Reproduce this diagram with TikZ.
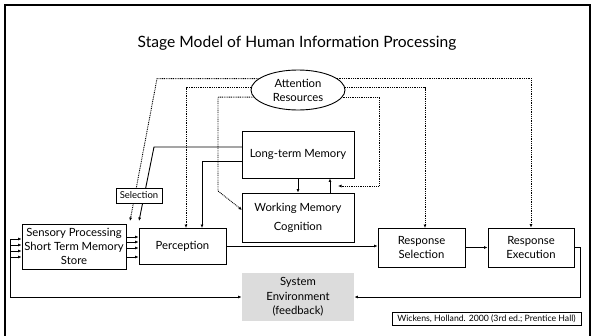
\documentclass[tikz,border=0pt]{standalone}
\usepackage{fontspec}
\setmainfont{Lato}
\usetikzlibrary{arrows.meta,shapes.geometric}
\definecolor{envgray}{HTML}{DCDCDC}
\begin{document}
\begin{tikzpicture}[x=1pt,y=-1pt,
  box/.style={draw,line width=0.9pt,inner sep=0pt,align=center,fill=white,
    font=\fontsize{11.3}{14}\selectfont},
  arr/.style={line width=0.9pt,-{Latex[length=3.5pt,width=3pt]}},
  dot/.style={line width=0.8pt,dash pattern=on 0.9pt off 0.9pt},
  smallbox/.style={draw,line width=0.8pt,inner sep=0pt,fill=white,font=\fontsize{8.7}{10}\selectfont}]
\useasboundingbox (0,0) rectangle (594,335);
\draw[line width=2pt] (5,336) -- (5,5) -- (590,5) -- (590,336);
\node[font=\fontsize{15.6}{18}\selectfont] (title) at (297,43) {Stage Model of Human Information Processing};

\node[box,ellipse,minimum width=94,minimum height=40] (att) at (298,90) {Attention\\Resources};
\node[box,minimum width=112,minimum height=47] (ltm) at (298,154.5) {Long-term Memory};
\node[box,minimum width=112,minimum height=49,font=\fontsize{11.3}{19}\selectfont] (wm) at (298,217.5) {Working Memory\\Cognition};
\node[box,minimum width=104,minimum height=45] (sens) at (74,246.5) {Sensory Processing\\Short Term Memory\\Store};
\node[box,minimum width=87,minimum height=36] (perc) at (182.5,246) {Perception};
\node[box,minimum width=87,minimum height=39] (rs) at (421.5,247.5) {Response\\Selection};
\node[box,minimum width=86,minimum height=39] (re) at (531,247.5) {Response\\Execution};
\node[box,draw=none,fill=envgray,minimum width=112,minimum height=48,font=\fontsize{11.3}{14.5}\selectfont] (env) at (298,297) {System\\Environment\\(feedback)};
\node[smallbox,minimum width=189,minimum height=13] (wick) at (486.5,318.5) {Wickens, Holland. 2000 (3rd ed.; Prentice Hall)};

% inputs on the left
\coordinate (l1) at (10,239);
\coordinate (l2) at (10,245);
\coordinate (l3) at (10,251);
\coordinate (l4) at (10,257);
\draw[arr] (l1) |- (env.west);
\foreach \c in {l1,l2,l3,l4} \draw[arr] (\c) -- (\c -| sens.west);

% sensory -> perception
\coordinate (s1) at (126,237);
\coordinate (s2) at (126,242);
\coordinate (s3) at (126,248);
\coordinate (s4) at (126,257);
\foreach \c in {s1,s2,s3,s4} \draw[arr] (\c) -- (\c -| perc.west);

% main chain
\draw[arr] (perc.east) -- (perc.east -| rs.west);
\draw[arr] (rs.east) -- (re.west);
\draw[arr] (re.east) -- ++(6,0) |- (env.east);

% LTM <-> WM
\draw[arr] (ltm.south) -- (wm.north);
\coordinate (u1) at (330,193);
\draw[arr] (u1) -- (u1 |- ltm.south);

% LTM -> selection / perception
\coordinate (a1) at (242,147);
\coordinate (b1) at (154,147);
\coordinate (t1) at (139,221);
\draw[arr] (a1) -- (b1) -- (t1);
\coordinate (a2) at (242,161);
\coordinate (p2) at (202,228);
\draw[arr] (a2) -| (p2);

% attention resources (dotted)
\coordinate (k1) at (157,0);
\coordinate (t0) at (130,221);
\draw[dot,arr] (att.164.4) -- (att.164.4 -| k1) -- (t0);
\coordinate (p3) at (186,228);
\draw[dot,arr] (att.177.6) -| (p3);
\coordinate (k3) at (218,191);
\coordinate (w1) at (242,210);
\draw[dot,arr] (att.189) -| (k3) -- (w1);
\draw[dot,arr] (att.17.7) -| (re.north);
\coordinate (r5) at (425,228);
\draw[dot,arr] (att.3.7) -| (r5);
\coordinate (k6) at (379,186);
\coordinate (e6) at (338,186);
\draw[dot,arr] (att.-9) -| (k6) -- (e6);

\node[smallbox,minimum width=46,minimum height=15,font=\fontsize{9.5}{10}\selectfont] (sel) at (139,195.5) {Selection};
\end{tikzpicture}
\end{document}
